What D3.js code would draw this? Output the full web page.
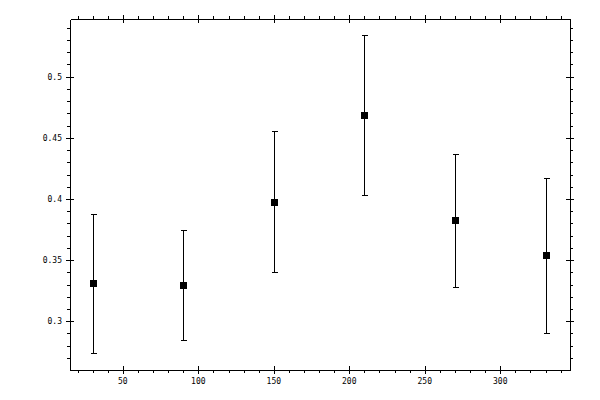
<!DOCTYPE html>
<html>
<head>
<meta charset="utf-8">
<script src="https://cdn.jsdelivr.net/npm/d3@7"></script>
<style>
  body { margin: 0; background: #fff; }
  text { font-family: "DejaVu Sans Mono", monospace; font-size: 8px; fill: #000; }
</style>
</head>
<body>
<div id="chart"></div>
<script>
// data
const angles = [30, 90, 150, 210, 270, 330];
const means = [0.3313, 0.3296, 0.3975, 0.4687, 0.3828, 0.3542];
const upper = [0.3877, 0.3746, 0.4556, 0.5342, 0.4368, 0.4172];
const lower = [0.2740, 0.2846, 0.3403, 0.4035, 0.3282, 0.2906];

const xTicks = [50, 100, 150, 200, 250, 300];
const yTicks = [0.3, 0.35, 0.4, 0.45, 0.5];

const width = 600;
const height = 400;
const margin = { top: 19, right: 30, bottom: 30, left: 70 };

const svg = d3.select("#chart")
  .append("svg")
  .attr("width", width)
  .attr("height", height)
  .attr("shape-rendering", "crispEdges");

const x = d3.scaleLinear().domain([15, 346.2]).range([margin.left, width - margin.right]);
const y = d3.scaleLinear().domain([0.2601, 0.5472]).range([height - margin.bottom, margin.top]);

// snap to pixel centres so 1px lines stay 1px
const px = v => Math.round(v) + 0.5;

// minor ticks every 10 / 0.01
const xMinor = d3.range(20, 345, 10);
const yMinor = d3.range(27, 55, 1).map(d => d / 100);

// frame: minor ticks point outwards
const axisBottomG = svg.append("g")
  .attr("transform", `translate(0,${height - margin.bottom})`)
  .call(d3.axisBottom(x).tickValues(xMinor).tickSize(3).tickSizeOuter(0).tickFormat(""));
const axisTopG = svg.append("g")
  .attr("transform", `translate(0,${margin.top})`)
  .call(d3.axisTop(x).tickValues(xMinor).tickSize(3).tickSizeOuter(0).tickFormat(""));
const axisLeftG = svg.append("g")
  .attr("transform", `translate(${margin.left},0)`)
  .call(d3.axisLeft(y).tickValues(yMinor).tickSize(3).tickSizeOuter(0).tickFormat(""));
const axisRightG = svg.append("g")
  .attr("transform", `translate(${width - margin.right},0)`)
  .call(d3.axisRight(y).tickValues(yMinor).tickSize(3).tickSizeOuter(0).tickFormat(""));

[axisBottomG, axisTopG, axisLeftG, axisRightG].forEach(g => {
  g.select(".domain").attr("stroke", "#000").attr("stroke-width", 1.2);
  g.selectAll(".tick line").attr("stroke", "#000");
});

// major ticks cross the frame
svg.append("g").selectAll("line")
  .data(xTicks)
  .join("line")
  .attr("x1", d => px(x(d))).attr("x2", d => px(x(d)))
  .attr("y1", height - margin.bottom - 4).attr("y2", height - margin.bottom + 4)
  .attr("stroke", "#000");
svg.append("g").selectAll("line")
  .data(xTicks)
  .join("line")
  .attr("x1", d => px(x(d))).attr("x2", d => px(x(d)))
  .attr("y1", margin.top - 4).attr("y2", margin.top + 4)
  .attr("stroke", "#000");
svg.append("g").selectAll("line")
  .data(yTicks)
  .join("line")
  .attr("x1", margin.left - 4).attr("x2", margin.left + 4)
  .attr("y1", d => px(y(d))).attr("y2", d => px(y(d)))
  .attr("stroke", "#000");
svg.append("g").selectAll("line")
  .data(yTicks)
  .join("line")
  .attr("x1", width - margin.right - 4).attr("x2", width - margin.right + 4)
  .attr("y1", d => px(y(d))).attr("y2", d => px(y(d)))
  .attr("stroke", "#000");

// tick labels
svg.append("g").selectAll("text")
  .data(xTicks)
  .join("text")
  .attr("x", d => x(d))
  .attr("y", height - margin.bottom + 14)
  .attr("text-anchor", "middle")
  .text(d => d);
svg.append("g").selectAll("text")
  .data(yTicks)
  .join("text")
  .attr("x", margin.left - 8)
  .attr("y", d => y(d))
  .attr("dy", "0.35em")
  .attr("text-anchor", "end")
  .text(d => d);

// error bars
const bars = angles.map((a, i) => ({ a: a, m: means[i], hi: upper[i], lo: lower[i] }));
const capW = 3;

const eb = svg.append("g").attr("stroke", "#000").attr("stroke-width", 1);
eb.selectAll(".stem")
  .data(bars)
  .join("line")
  .attr("class", "stem")
  .attr("x1", d => px(x(d.a))).attr("x2", d => px(x(d.a)))
  .attr("y1", d => px(y(d.hi))).attr("y2", d => px(y(d.lo)));
eb.selectAll(".cap-hi")
  .data(bars)
  .join("line")
  .attr("class", "cap-hi")
  .attr("x1", d => px(x(d.a)) - capW).attr("x2", d => px(x(d.a)) + capW)
  .attr("y1", d => px(y(d.hi))).attr("y2", d => px(y(d.hi)));
eb.selectAll(".cap-lo")
  .data(bars)
  .join("line")
  .attr("class", "cap-lo")
  .attr("x1", d => px(x(d.a)) - capW).attr("x2", d => px(x(d.a)) + capW)
  .attr("y1", d => px(y(d.lo))).attr("y2", d => px(y(d.lo)));

// square markers
const sz = 7;
svg.append("g").selectAll("rect")
  .data(bars)
  .join("rect")
  .attr("x", d => px(x(d.a)) - sz / 2)
  .attr("y", d => px(y(d.m)) - sz / 2)
  .attr("width", sz)
  .attr("height", sz)
  .attr("fill", "#000");
</script>
</body>
</html>
